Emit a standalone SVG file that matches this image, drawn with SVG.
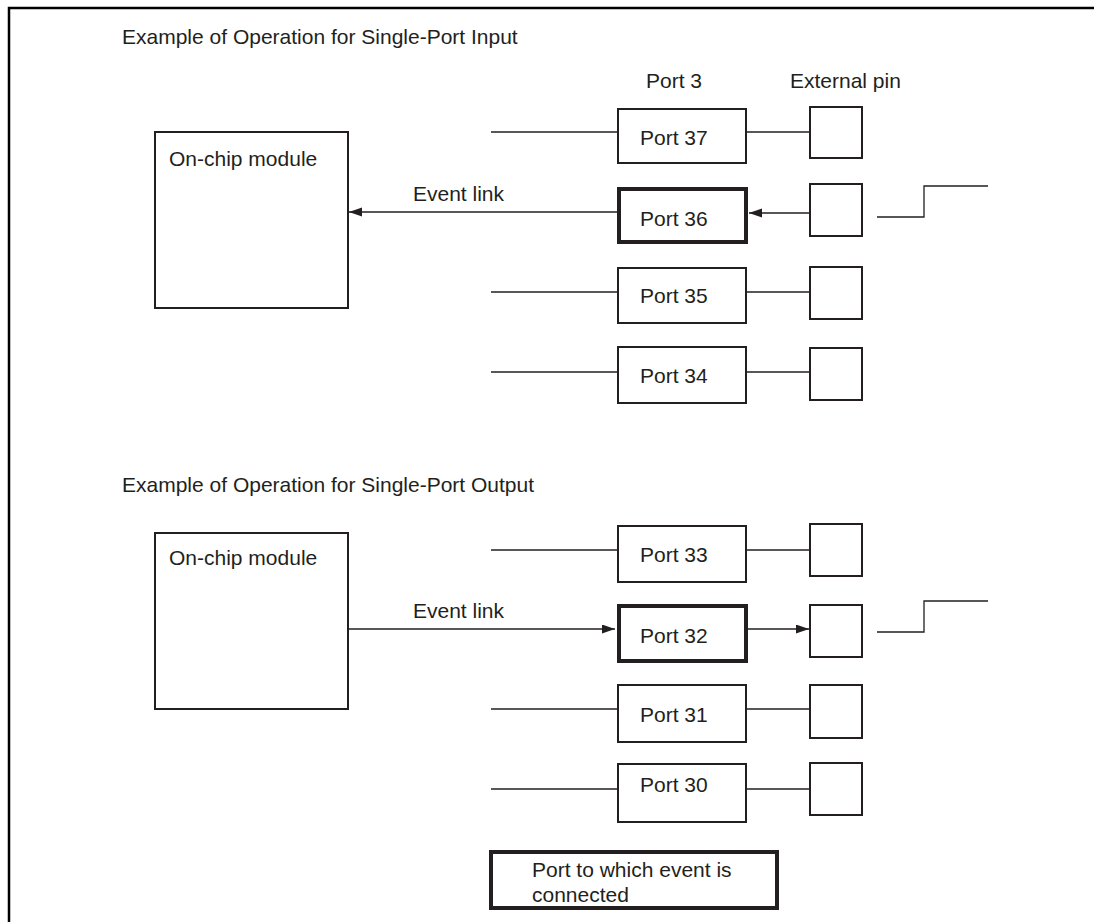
<svg xmlns="http://www.w3.org/2000/svg" width="1094" height="922" viewBox="0 0 1094 922">
<defs>
<style>
text{font-family:"Liberation Sans",Arial,sans-serif;font-size:21px;fill:#231f20}
.box{fill:#fff;stroke:#231f20;stroke-width:2}
.thick{fill:#fff;stroke:#231f20;stroke-width:4}
.ln{fill:none;stroke:#231f20;stroke-width:1.3}
</style>
<marker id="ah" markerUnits="userSpaceOnUse" markerWidth="14" markerHeight="10" refX="13" refY="4.5" orient="auto">
<path d="M0,0 L13,4.5 L0,9 Z" fill="#231f20"/>
</marker>
</defs>
<rect width="1094" height="922" fill="#fff"/>
<path d="M9,922 V8 H1094" fill="none" stroke="#000" stroke-width="2.5"/>

<text x="122" y="44">Example of Operation for Single-Port Input</text>
<text x="646" y="88">Port 3</text>
<text x="790" y="88">External pin</text>
<text x="122" y="492">Example of Operation for Single-Port Output</text>

<g id="connectors">
<line class="ln" x1="617" y1="212" x2="349" y2="212" marker-end="url(#ah)"/>
<line class="ln" x1="810" y1="213" x2="749" y2="213" marker-end="url(#ah)"/>
<line class="ln" x1="491" y1="132" x2="618" y2="132"/>
<line class="ln" x1="746" y1="132" x2="810" y2="132"/>
<line class="ln" x1="491" y1="292" x2="618" y2="292"/>
<line class="ln" x1="746" y1="292" x2="810" y2="292"/>
<line class="ln" x1="491" y1="372" x2="618" y2="372"/>
<line class="ln" x1="746" y1="372" x2="810" y2="372"/>
<line class="ln" x1="348" y1="629" x2="615" y2="629" marker-end="url(#ah)"/>
<line class="ln" x1="748" y1="629" x2="809" y2="629" marker-end="url(#ah)"/>
<line class="ln" x1="491" y1="550" x2="618" y2="550"/>
<line class="ln" x1="746" y1="550" x2="810" y2="550"/>
<line class="ln" x1="491" y1="709" x2="618" y2="709"/>
<line class="ln" x1="746" y1="709" x2="810" y2="709"/>
<line class="ln" x1="491" y1="789" x2="618" y2="789"/>
<line class="ln" x1="746" y1="789" x2="810" y2="789"/>
<polyline class="ln" points="877,217 924,217 924,186 988,186"/>
<polyline class="ln" points="877,632 924,632 924,601 988,601"/>
<text x="413" y="201">Event link</text>
<text x="413" y="618">Event link</text>
</g>

<g id="module-in"><rect class="box" x="155" y="132" width="193" height="176"/><text x="169" y="166">On-chip module</text></g>
<g id="module-out"><rect class="box" x="155" y="533" width="193" height="176"/><text x="169" y="565">On-chip module</text></g>

<g id="port37"><rect class="box" x="618" y="109" width="128" height="54"/><text x="640" y="145">Port 37</text></g>
<g id="port36"><rect class="thick" x="619" y="189" width="127" height="53"/><text x="640" y="226">Port 36</text></g>
<g id="port35"><rect class="box" x="618" y="268" width="128" height="55"/><text x="640" y="303">Port 35</text></g>
<g id="port34"><rect class="box" x="618" y="347" width="128" height="56"/><text x="640" y="383">Port 34</text></g>
<g id="port33"><rect class="box" x="618" y="526" width="128" height="56"/><text x="640" y="562">Port 33</text></g>
<g id="port32"><rect class="thick" x="619" y="606" width="127" height="55"/><text x="640" y="643">Port 32</text></g>
<g id="port31"><rect class="box" x="618" y="685" width="128" height="57"/><text x="640" y="722">Port 31</text></g>
<g id="port30"><rect class="box" x="618" y="764" width="128" height="58"/><text x="640" y="792">Port 30</text></g>

<g id="pin37"><rect class="box" x="810" y="107" width="52" height="51"/></g>
<g id="pin36"><rect class="box" x="810" y="184" width="52" height="52"/></g>
<g id="pin35"><rect class="box" x="810" y="267" width="52" height="52"/></g>
<g id="pin34"><rect class="box" x="810" y="348" width="52" height="52"/></g>
<g id="pin33"><rect class="box" x="810" y="524" width="52" height="52"/></g>
<g id="pin32"><rect class="box" x="810" y="605" width="52" height="52"/></g>
<g id="pin31"><rect class="box" x="810" y="685" width="52" height="53"/></g>
<g id="pin30"><rect class="box" x="810" y="763" width="52" height="52"/></g>

<g id="legend"><rect class="thick" x="491" y="852" width="286" height="56"/><text x="532" y="877">Port to which event is</text><text x="532" y="902">connected</text></g>
</svg>
